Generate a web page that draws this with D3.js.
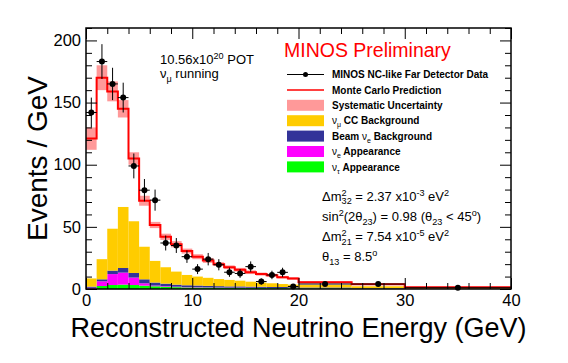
<!DOCTYPE html>
<html>
<head>
<meta charset="utf-8">
<script src="https://cdn.jsdelivr.net/npm/d3@7"></script>
<style>
  body { margin: 0; background: #fff; }
  svg { font-family: "Liberation Sans", Arial, sans-serif; }
</style>
</head>
<body>
<svg id="chart" width="568" height="363"></svg>
<script>
// bin edges in GeV (1 GeV bins to 20, then wider ones)
var binEdges = [0,1,2,3,4,5,6,7,8,9,10,11,12,13,14,15,16,17,18,19,20,25,30,40];

// Monte Carlo prediction (events / GeV) and its systematic band half-width
var mcPred = [121,170,159,145,105,71,51.5,42,36,30.5,26,23,20,17.5,15.5,13.5,12,11,9.5,8.5,5.5,3.8,1.5];
var mcSyst = [9,10,8,7,5,4,2.5,2.5,2.5,2,2,2,1.5,1.5,1.5,1.5,1.2,1.2,1,1,0.8,0.6,0.3];

// stacked backgrounds, bottom to top
var nuTauApp = [0.3,2.4,3.2,3.5,3.2,2.7,2.2,1.8,1.5,1.3,1.2,1.1,1,0.9,0.9,0.8,0.8,0.7,0.7,0.6,0.5,0.3,0.1];
var nuEApp   = [0.7,3.8,8.8,9.7,6.0,1.9,0.6,0.5,0.4,0.3,0.3,0.2,0.2,0.2,0.2,0.2,0.1,0.1,0.1,0.1,0.1,0.05,0];
var beamNuE  = [0.9,1.6,2.8,3.7,3.7,3.2,2.4,2.0,1.6,1.4,1.3,1.2,1.1,1,1,0.9,0.9,0.8,0.8,0.7,0.6,0.4,0.2];
var numuCC   = [6.6,16.2,33.7,49.1,41.6,26.2,17.4,13.2,10.5,8.3,7.2,6.5,5.7,5.2,4.6,4.0,3.3,3.0,2.4,2.1,2.0,1.45,0.5];

// far detector data (events / GeV) and statistical errors
var dataVal = [142,183,165,154,99,79.5,71.5,37,35,26,16,24,19.5,13.5,12.5,18,6,11.3,13.4,2,4,4,1];
var dataErr = [12,14,13,12,10,9,8.5,6,6,5,4,5,4.5,3.7,3.5,4.2,2.5,3.4,3.7,1.4,0.9,0.9,0.3];

var xMajor = [0,10,20,30,40];
var xMinor = [2,4,6,8,12,14,16,18,22,24,26,28,32,34,36,38];
var yMajor = [0,50,100,150,200];
var yMinor = [10,20,30,40,60,70,80,90,110,120,130,140,160,170,180,190,210];

var svg = d3.select("#chart"),
    margin = {top: 28, right: 57, bottom: 74, left: 86},
    width = +svg.attr("width") - margin.left - margin.right,
    height = +svg.attr("height") - margin.top - margin.bottom;

var x = d3.scaleLinear().domain([0, 40]).range([0, width]);
var y = d3.scaleLinear().domain([0, 210]).range([height, 0]);

var g = svg.append("g")
    .attr("transform", "translate(" + margin.left + "," + margin.top + ")");

// table for the stack
var rows = binEdges.slice(0, -1).map(function (e, i) {
    return {lo: e, hi: binEdges[i + 1], tau: nuTauApp[i], nue: nuEApp[i], beam: beamNuE[i], numu: numuCC[i]};
});
var keys = ["tau", "nue", "beam", "numu"];
var colors = {tau: "#00ff00", nue: "#ff00ff", beam: "#333399", numu: "#ffcc00"};
var series = d3.stack().keys(keys)(rows);

series.forEach(function (s) {
    g.selectAll(".bar-" + s.key)
        .data(s)
        .enter().append("rect")
        .attr("x", function (d) { return x(d.data.lo); })
        .attr("width", function (d) { return x(d.data.hi) - x(d.data.lo); })
        .attr("y", function (d) { return y(d[1]); })
        .attr("height", function (d) { return y(d[0]) - y(d[1]); })
        .attr("fill", colors[s.key]);
});

// systematic band
g.selectAll(".band")
    .data(rows)
    .enter().append("rect")
    .attr("x", function (d) { return x(d.lo); })
    .attr("width", function (d) { return x(d.hi) - x(d.lo); })
    .attr("y", function (d, i) { return y(mcPred[i] + mcSyst[i]); })
    .attr("height", function (d, i) { return y(mcPred[i] - mcSyst[i]) - y(mcPred[i] + mcSyst[i]); })
    .attr("fill", "#ff9999");

// MC step line
var stepPts = binEdges.map(function (e, i) {
    return [e, i < mcPred.length ? mcPred[i] : mcPred[mcPred.length - 1]];
});
g.append("path")
    .datum(stepPts)
    .attr("fill", "none")
    .attr("stroke", "#ff0000")
    .attr("stroke-width", 2)
    .attr("d", d3.line().curve(d3.curveStepAfter)
        .x(function (d) { return x(d[0]); })
        .y(function (d) { return y(d[1]); }));

// data points
var pts = g.selectAll(".pt")
    .data(rows)
    .enter().append("g");
pts.append("line")
    .attr("x1", function (d) { return x(d.lo); })
    .attr("x2", function (d) { return x(d.hi); })
    .attr("y1", function (d, i) { return y(dataVal[i]); })
    .attr("y2", function (d, i) { return y(dataVal[i]); })
    .attr("stroke", "#000");
pts.append("line")
    .attr("x1", function (d) { return x((d.lo + d.hi) / 2); })
    .attr("x2", function (d) { return x((d.lo + d.hi) / 2); })
    .attr("y1", function (d, i) { return y(dataVal[i] - dataErr[i]); })
    .attr("y2", function (d, i) { return y(dataVal[i] + dataErr[i]); })
    .attr("stroke", "#000");
pts.append("circle")
    .attr("cx", function (d) { return x((d.lo + d.hi) / 2); })
    .attr("cy", function (d, i) { return y(dataVal[i]); })
    .attr("r", 3)
    .attr("fill", "#000");

// axes, ticks pointing in like ROOT
function axisPair(maker, scale, major, minor, pos, labels) {
    var a = g.append("g").attr("transform", pos);
    a.call(maker(scale).tickValues(major).tickSizeInner(-11).tickSizeOuter(0).tickPadding(labels ? 5 : 0)
        .tickFormat(labels ? d3.format("d") : ""));
    a.call(function (s) { s.select(".domain").remove(); });
    var b = g.append("g").attr("transform", pos);
    b.call(maker(scale).tickValues(minor).tickSizeInner(-6).tickSizeOuter(0).tickFormat(""));
    b.select(".domain").remove();
    a.selectAll("text").attr("font-size", 16.5).attr("fill", "#000").attr("font-family", "Liberation Sans, Arial, sans-serif");
    return a;
}
axisPair(d3.axisLeft, y, yMajor, yMinor, "translate(0,0)", true);
axisPair(d3.axisRight, y, yMajor, yMinor, "translate(" + width + ",0)", false);
axisPair(d3.axisBottom, x, xMajor, xMinor, "translate(0," + height + ")", true);
axisPair(d3.axisTop, x, xMajor, xMinor, "translate(0,0)", false);
g.selectAll(".tick line").attr("stroke", "#000");

g.append("rect")
    .attr("width", width).attr("height", height)
    .attr("fill", "none").attr("stroke", "#000").attr("stroke-width", 1.5);

// axis titles
svg.append("text")
    .attr("transform", "translate(47," + (margin.top + height / 2) + ") rotate(-90)")
    .attr("text-anchor", "middle")
    .attr("font-size", 28)
    .text("Events / GeV");
svg.append("text")
    .attr("x", margin.left + width / 2).attr("y", 337)
    .attr("text-anchor", "middle")
    .attr("font-size", 27)
    .text("Reconstructed Neutrino Energy (GeV)");

// rich text helper for sub/superscripts
function rich(parent, px, py, parts, size, weight) {
    var t = parent.append("text").attr("x", px).attr("y", py)
        .attr("font-size", size).attr("font-weight", weight || "normal");
    var shift = 0;
    parts.forEach(function (p) {
        var mode = p[1] || "";
        var target = mode === "sup" ? -0.38 * size : mode === "sub" ? 0.3 * size : 0;
        var ts = t.append("tspan").attr("dy", target - shift).text(p[0]);
        if (mode) ts.attr("font-size", size * 0.7);
        if (p[2]) ts.attr("dx", p[2]);
        if (p[3]) ts.attr("font-weight", p[3]);
        shift = target;
    });
    return t;
}

rich(svg, 160, 64, [["10.56x10"], ["20", "sup"], [" POT"]], 13);
rich(svg, 160, 78, [["ν"], ["μ", "sub"], [" running"]], 13);

svg.append("text")
    .attr("x", 284).attr("y", 57)
    .attr("font-size", 19.5).attr("fill", "#ff0000")
    .text("MINOS Preliminary");

// legend
var legendLabels = [
    [["MINOS NC-like Far Detector Data"]],
    [["Monte Carlo Prediction"]],
    [["Systematic Uncertainty"]],
    [["ν", "", 0, "normal"], ["μ", "sub", 0, "normal"], [" CC Background"]],
    [["Beam "], ["ν", "", 0, "normal"], ["e", "sub", 0, "normal"], [" Background"]],
    [["ν", "", 0, "normal"], ["e", "sub", 0, "normal"], [" Appearance"]],
    [["ν", "", 0, "normal"], ["τ", "sub", 0, "normal"], [" Appearance"]]
];
var legendKinds = ["data", "line", "#ff9999", "#ffcc00", "#333399", "#ff00ff", "#00ff00"];
var leg = svg.append("g").attr("transform", "translate(287,74.5)");
legendLabels.forEach(function (lab, i) {
    var yy = i * 15.4;
    var k = legendKinds[i];
    if (k === "data") {
        leg.append("line").attr("x1", 0).attr("x2", 37).attr("y1", yy).attr("y2", yy).attr("stroke", "#000");
        leg.append("circle").attr("cx", 18.5).attr("cy", yy).attr("r", 2.5).attr("fill", "#000");
    } else if (k === "line") {
        leg.append("line").attr("x1", 0).attr("x2", 37).attr("y1", yy).attr("y2", yy).attr("stroke", "#ff0000").attr("stroke-width", 1.5);
    } else {
        leg.append("rect").attr("x", 0).attr("y", yy - 5.5).attr("width", 37).attr("height", 11).attr("fill", k);
    }
    rich(leg, 45, yy + 3.6, lab, 10, "bold");
});

// oscillation parameters
var params = svg.append("g").attr("transform", "translate(322,0)");
rich(params, 0, 200.5, [["Δm"], ["2", "sup"], ["32", "sub", -5], [" = 2.37 x10"], ["-3", "sup"], [" eV"], ["2", "sup"]], 13);
rich(params, 0, 221, [["sin"], ["2", "sup"], ["(2θ"], ["23", "sub"], [") = 0.98 (θ"], ["23", "sub"], [" < 45"], ["o", "sup"], [")"]], 13);
rich(params, 0, 241, [["Δm"], ["2", "sup"], ["21", "sub", -5], [" = 7.54 x10"], ["-5", "sup"], [" eV"], ["2", "sup"]], 13);
rich(params, 0, 261, [["θ"], ["13", "sub"], [" = 8.5"], ["o", "sup"]], 13);
</script>
</body>
</html>
